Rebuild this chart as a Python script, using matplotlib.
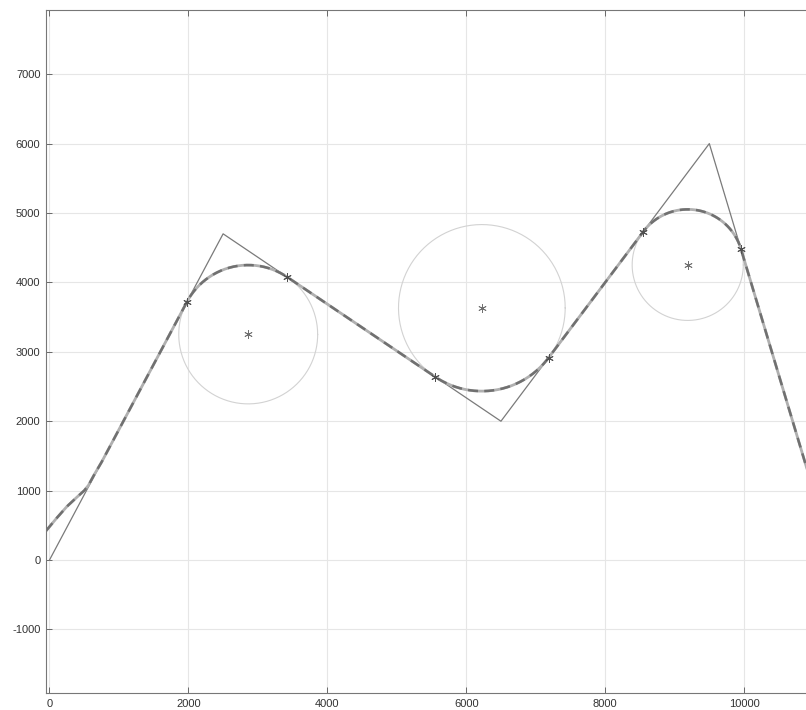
import numpy as np
import matplotlib.pyplot as plt

plt.rcParams['font.family'] = ['Liberation Sans', 'DejaVu Sans']
plt.rcParams['axes.unicode_minus'] = False

# waypoints of the reference polyline and the fillet radius at each inner corner
way_x = [0, 2500, 6500, 9500, 11000]
way_y = [0, 4700, 2000, 6000, 1000]
radii = [1000, 1200, 800]

# lead-in part of the smoothed path
lead_x = [-50, 100, 250, 400, 500, 560, 650, 750]
lead_y = [420, 600, 770, 910, 1000, 1075, 1240, 1410]

x_ticks = [0, 2000, 4000, 6000, 8000, 10000]
y_ticks = [-1000, 0, 1000, 2000, 3000, 4000, 5000, 6000, 7000]


def fillet(p0, p1, p2, r):
    d1 = (p1 - p0) / np.linalg.norm(p1 - p0)
    d2 = (p2 - p1) / np.linalg.norm(p2 - p1)
    turn = np.arctan2(d1[0] * d2[1] - d1[1] * d2[0], d1 @ d2)
    t = r * np.tan(abs(turn) / 2)
    a = p1 - d1 * t
    b = p1 + d2 * t
    n = np.array([-d1[1], d1[0]]) * np.sign(turn)
    c = a + n * r
    th0 = np.arctan2(a[1] - c[1], a[0] - c[0])
    th = np.linspace(th0, th0 + turn, 80)
    arc = np.column_stack([c[0] + r * np.cos(th), c[1] + r * np.sin(th)])
    return a, b, c, arc


pts = np.column_stack([way_x, way_y]).astype(float)
path = [np.column_stack([lead_x, lead_y])]
tangents = []
centers = []
for i, r in enumerate(radii):
    a, b, c, arc = fillet(pts[i], pts[i + 1], pts[i + 2], r)
    path.append(arc)
    tangents += [a, b]
    centers.append(c)
path.append(pts[-1:])
path = np.vstack(path)
tangents = np.array(tangents)
centers = np.array(centers)

fig = plt.figure(figsize=(8.06, 7.10), dpi=100)
ax = fig.add_axes([46 / 806, 17 / 710, (813.5 - 46) / 806, 683 / 710])

ax.plot(way_x, way_y, color='#7a7a7a', lw=0.9)
th = np.linspace(0, 2 * np.pi, 300)
for c, r in zip(centers, radii):
    ax.plot(c[0] + r * np.cos(th), c[1] + r * np.sin(th), color='#d2d2d2', lw=0.8)

ax.plot(path[:, 0], path[:, 1], color='#b0b0b0', lw=2.0, solid_capstyle='round')
ax.plot(path[:, 0], path[:, 1], color='#707070', lw=1.8, dashes=(4, 2.5))

ax.plot(tangents[:, 0], tangents[:, 1], ls='none', marker=(6, 2, 0), ms=6,
        mew=0.7, color='#505050')
ax.plot(centers[:, 0], centers[:, 1], ls='none', marker=(6, 2, 0), ms=6,
        mew=0.6, color='#707070')

ax.set_xlim(-50, 11000)
ax.set_ylim(-1916, 7925)
ax.set_xticks(x_ticks)
ax.set_yticks(y_ticks)
ax.grid(True, color='#e6e6e6', lw=0.8)
ax.set_axisbelow(True)
ax.tick_params(direction='in', top=True, right=True, length=4, width=0.6,
               colors='#555555', labelcolor='#333333', labelsize=8, pad=4)
for s in ax.spines.values():
    s.set_color('#777777')
    s.set_linewidth(0.8)

fig.savefig('out.png', dpi=100)
